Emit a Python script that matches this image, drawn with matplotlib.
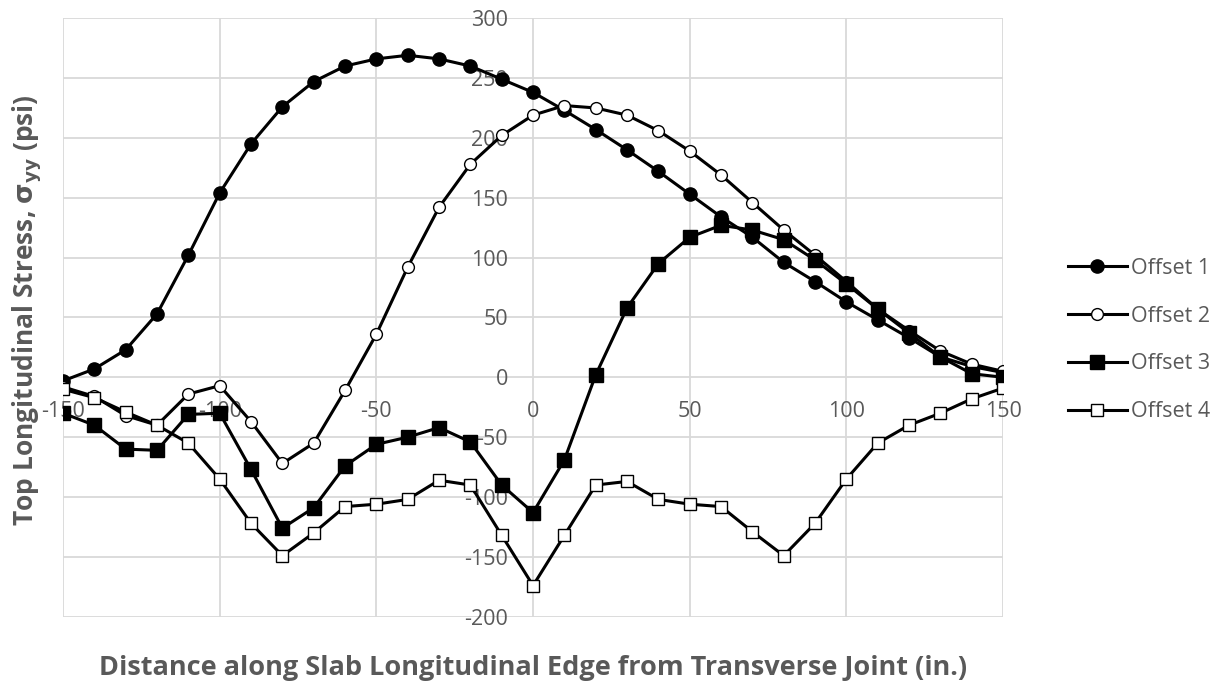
import matplotlib.pyplot as plt
import numpy as np

# Distance along the longitudinal edge (in.)
distance = np.arange(-150, 151, 10)

# Top longitudinal stress at each offset (psi)
offset_1 = [-3, 7, 23, 53, 102, 154, 195, 226, 247, 260, 266, 269, 266, 260, 249,
            238, 223, 207, 190, 172, 153, 134, 117, 96, 80, 63, 48, 33, 17, 9, 4]
offset_2 = [-8, -16, -32, -40, -14, -7, -37, -72, -55, -11, 36, 92, 142, 178, 202,
            219, 227, 225, 219, 206, 189, 169, 146, 123, 102, 80, 57, 39, 22, 11, 5]
offset_3 = [-30, -40, -60, -61, -31, -30, -77, -126, -109, -74, -56, -50, -42, -54, -90,
            -113, -69, 2, 58, 95, 117, 127, 123, 115, 98, 78, 57, 37, 17, 3, 0]
offset_4 = [-10, -17, -29, -40, -55, -85, -122, -149, -130, -108, -106, -102, -86, -90, -132,
            -174, -132, -90, -87, -102, -106, -108, -129, -149, -122, -85, -55, -40, -30, -18, -9]

series = [
    ("Offset 1", offset_1, dict(marker="o", markersize=9.5, markerfacecolor="black")),
    ("Offset 2", offset_2, dict(marker="o", markersize=8.5, markerfacecolor="white",
                                markeredgewidth=1.0)),
    ("Offset 3", offset_3, dict(marker="s", markersize=9.5, markerfacecolor="black")),
    ("Offset 4", offset_4, dict(marker="s", markersize=8.5, markerfacecolor="white",
                                markeredgewidth=1.0)),
]

plt.rcParams["font.family"] = ["Open Sans", "DejaVu Sans"]
plt.rcParams["axes.unicode_minus"] = False
grey = "#595959"

fig = plt.figure(figsize=(12.24, 6.86), dpi=100)
ax = fig.add_axes([0.0515, 0.101, 0.768, 0.8725])

for label, values, style in series:
    ax.plot(distance, values, color="black", linewidth=2.2,
            markeredgecolor="black", label=label, **style)

ax.set_xlim(-150, 150)
ax.set_ylim(-200, 300)
ax.set_xticks(np.arange(-150, 151, 50))
ax.set_yticks(np.arange(-200, 301, 50))

# axes cross at the origin, as in a spreadsheet chart
ax.spines["left"].set_position(("data", 0))
ax.spines["bottom"].set_position(("data", 0))
for side in ["left", "right", "top", "bottom"]:
    ax.spines[side].set_visible(False)

ax.grid(True, color="#d9d9d9", linewidth=1.3)
ax.set_axisbelow(True)
ax.tick_params(axis="both", length=0, labelsize=15.5, labelcolor=grey)
ax.tick_params(axis="x", pad=17)
ax.tick_params(axis="y", pad=18)

# axis titles are centred on the plot area
fig.text(533 / 1224, 1 - 675 / 686, "Distance along Slab Longitudinal Edge from Transverse Joint (in.)",
         ha="center", va="baseline", fontsize=19.5, fontweight="bold", color=grey)
fig.text(27 / 1224, 1 - 310 / 686, r"Top Longitudinal Stress, $\mathbf{\sigma_{yy}}$ (psi)",
         ha="center", va="center", rotation=90, fontsize=19, fontweight="bold", color=grey)

fig.legend(loc="center left", bbox_to_anchor=(1049 / 1224, 1 - 340 / 686), frameon=False,
           fontsize=15.5, labelcolor=grey, handlelength=2.7, handletextpad=0.22,
           labelspacing=1.25)

fig.savefig("out.png", dpi=100)
